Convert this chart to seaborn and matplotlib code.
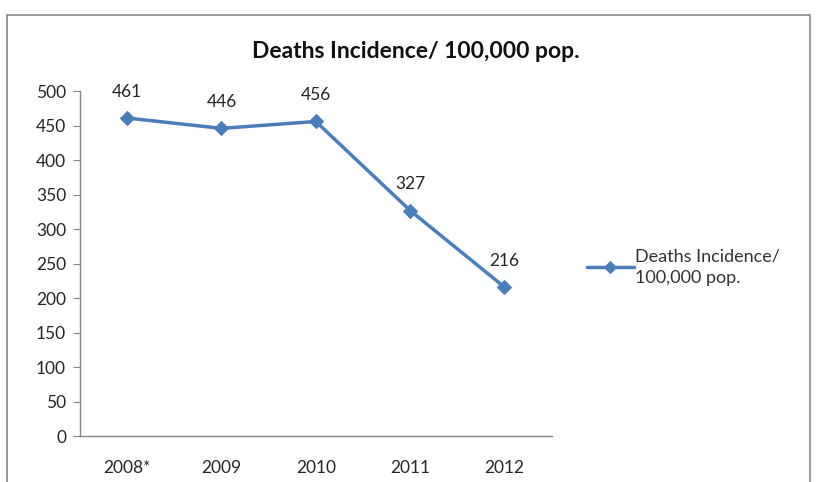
import numpy as np
import pandas as pd
import matplotlib
matplotlib.use("Agg")
import matplotlib.pyplot as plt
from matplotlib.patches import Rectangle
import seaborn as sns

years  = ["2008*", "2009", "2010", "2011", "2012"]
deaths = [461, 446, 456, 327, 216]
series = "Deaths Incidence/ 100,000 pop."

BLUE = "#4A7EBB"
GREY = "#878787"
TXT  = "#262626"

sns.set_style("white")
plt.rcParams['font.family'] = ['Lato', 'DejaVu Sans']

df = pd.DataFrame({"year": years, "deaths": deaths})

fig = plt.figure(figsize=(8.16, 4.82), dpi=100)
ax = fig.add_axes([0.098, 0.095, 0.578, 0.716])

sns.lineplot(data=df, x="year", y="deaths", ax=ax, color=BLUE, lw=2.5,
             marker="D", markersize=7.5, markeredgecolor=BLUE,
             label="Deaths Incidence/\n100,000 pop.")

for i, v in enumerate(deaths):
    ax.annotate(str(v), (i, v), xytext=(0, 13), textcoords="offset points",
                ha="center", va="bottom", fontsize=12.5, color=TXT)

ax.set_ylim(0, 500)
ax.set_yticks(range(0, 501, 50))
ax.set_xlim(-0.5, len(years) - 0.5)
ax.set_xticks(range(len(years)))
ax.set_xticklabels(years)
ax.set_xticks(np.arange(-0.5, len(years)), minor=True)
ax.tick_params(axis="x", which="major", length=0, pad=17, labelsize=12.5, labelcolor=TXT)
ax.tick_params(axis="x", which="minor", length=5, color=GREY, direction="out")
ax.tick_params(axis="y", length=5, color=GREY, direction="out", labelsize=12.5,
               labelcolor=TXT, left=True, pad=5)
ax.set_xlabel("")
ax.set_ylabel("")
sns.despine(ax=ax)
for s in ["left", "bottom"]:
    ax.spines[s].set_color(GREY)
    ax.spines[s].set_linewidth(1)

# centred over the whole chart area, not just the plot
fig.text(416 / 816, 1 - 51 / 482, series, ha="center", va="center",
         fontsize=16.5, fontweight="bold", color="#111111")

leg = ax.legend(loc="center left", bbox_to_anchor=(1.04, 0.49), frameon=False,
                fontsize=13, handlelength=2.6, handletextpad=0.05)
for t in leg.get_texts():
    t.set_color("#333333")
    t.set_linespacing(1.4)
for h in leg.legend_handles:
    h.set_markersize(6)

fig.patches.append(Rectangle((7 / 816, -0.05), 803 / 816, 1 - 15 / 482 + 0.05,
                             transform=fig.transFigure, fill=False,
                             edgecolor=GREY, lw=1.2))

fig.savefig("out.png", dpi=100)
